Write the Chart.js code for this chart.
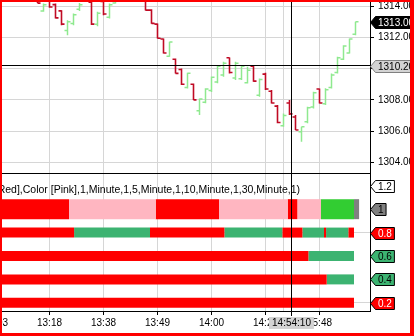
<!DOCTYPE html>
<html>
<head>
<meta charset="utf-8">
<script src="https://cdn.jsdelivr.net/npm/chart.js@4.4.1/dist/chart.umd.min.js"></script>
<style>
  html, body { margin:0; padding:0; }
  body { width:414px; height:336px; overflow:hidden; background:#ff0000; position:relative; }
  #frame { position:absolute; left:2px; top:2px; width:408px; height:331px; background:#ffffff; }
  canvas { display:block; }
</style>
</head>
<body>
<div id="frame"><canvas id="chart" width="408" height="331"></canvas></div>
<script>
// ---------------- data ----------------
const opens  = [1315.2,1315.0,1314.8,1315.3,1315.1,1315.5,1314.9,1313.7,1314.5,1314.1,
                1313.7,1312.45,1312.9,1313.8,1314.4,1314.25,1312.85,1314.3,1313.3,1314.2,
                1314.7,1315.2,1314.9,1315.3,1314.6,1313.75,1312.85,1311.9,1310.8,1310.6,
                1309.95,1308.8,1309.0,1307.3,1307.85,1308.6,1309.15,1309.6,1310.7,1309.4,
                1309.35,1309.1,1310.15,1308.3,1309.65,1308.55,1307.6,1306.35,1307.8,1306.9,
                1305.96,1306.6,1307.55,1308.7,1307.75,1308.8,1309.75,1310.6,1311.0,1312.2];
const highs  = [1315.5,1315.3,1315.4,1315.6,1315.6,1315.6,1315.0,1314.17,1314.6,1314.17,
                1313.74,1313.1,1313.53,1314.2,1314.9,1314.3,1313.64,1314.4,1314.17,1314.8,
                1315.3,1315.3,1315.4,1315.4,1314.7,1313.8,1312.89,1311.93,1311.72,1310.65,
                1310.01,1309.73,1309.05,1308.09,1308.75,1309.5,1310.23,1310.44,1310.72,1310.44,
                1310.23,1310.12,1310.18,1309.37,1309.73,1308.63,1307.67,1307.13,1307.99,1307.03,
                1306.28,1307.56,1308.52,1308.73,1308.75,1309.69,1310.76,1311.5,1311.93,1313.0];
const lows   = [1314.8,1314.7,1314.7,1315.0,1315.0,1314.9,1314.2,1313.64,1313.9,1313.21,
                1312.78,1312.14,1312.78,1313.7,1314.35,1312.8,1312.72,1313.42,1313.21,1314.17,
                1314.6,1314.8,1314.8,1314.6,1313.72,1312.88,1311.93,1310.97,1310.76,1309.69,
                1308.95,1308.73,1307.99,1307.03,1307.79,1308.5,1309.07,1309.48,1309.69,1309.27,
                1309.27,1309.05,1309.16,1308.2,1308.63,1307.77,1306.5,1306.28,1307.03,1306.07,
                1305.32,1306.5,1307.45,1307.77,1307.67,1308.73,1309.69,1310.55,1310.97,1312.14];
const closes = [1315.0,1314.8,1315.3,1315.1,1315.5,1315.0,1314.2,1314.1,1313.95,1313.25,
                1312.85,1313.0,1313.45,1314.1,1314.8,1312.85,1313.55,1313.5,1314.1,1314.7,
                1315.2,1314.9,1315.3,1314.7,1313.75,1312.9,1311.95,1311.0,1311.7,1309.7,
                1309.0,1309.7,1308.0,1308.05,1308.7,1309.45,1310.15,1310.35,1309.75,1310.35,
                1310.15,1309.9,1309.2,1309.3,1308.7,1307.8,1306.55,1307.0,1307.1,1306.07,
                1306.28,1307.5,1308.45,1307.8,1308.65,1309.6,1310.7,1311.45,1311.9,1313.0];

const timeTickBars   = [-1, 8, 17, 26, 35, 44, 53];
const timeTickLabels = ['13:03','13:18','13:38','13:49','14:00','14:27','15:48'];
const priceTicks     = [1304, 1306, 1308, 1310, 1312, 1314];
const trendTicks     = [0.2, 0.4, 0.6, 0.8, 1, 1.2];
const trendTickLabels= ['0.2','0.4','0.6','0.8','1','1.2'];
const trendGridLevels= [0.2, 0.8];

// indicator rows: level, segment edges (bar units) and state per segment
const trendLevels = [1, 0.8, 0.6, 0.4, 0.2];
const trendEdges = [
  [-1, 11.25, 25.7, 36.25, 47.7, 49.3, 53.25, 58.75, 59.6],
  [-1, 12.1, 24.75, 37.15, 46.8, 50.15, 53.75, 54.1, 57.8, 58.75],
  [-1, 51.15, 58.75],
  [-1, 54.2, 58.75],
  [-1, 58.75]
];
const trendStates = [
  ['R','P','R','P','R','P','G','N'],
  ['R','T','R','T','R','T','R','T','R'],
  ['R','T'],
  ['R','T'],
  ['R']
];

const crossBar = 48.33;
const crossPrice = 1310.2;
const crossTime = '14:54:10';
const sessionLineBar = 47;
const indicatorLabel = 'Red],Color [Pink],1,Minute,1,5,Minute,1,10,Minute,1,30,Minute,1)';

// ---------------- styles ----------------
const FONT = '"Liberation Sans", Arial, sans-serif';
const GRID = '#d6d6d6';
const UP = '#8fe98f';
const DOWN = '#c00a24';
const stateColors = { R:'#ff0000', P:'#ffb6c1', G:'#32cd32', T:'#3cb371', N:'#808080' };
const TICK = 0.5;
Chart.defaults.font.family = FONT;

// ---------------- datasets ----------------
function barSegments(wantUp) {
  const pts = [];
  for (let i = 0; i < closes.length; i++) {
    if ((closes[i] >= opens[i]) !== wantUp) continue;
    pts.push({x:i, y:lows[i]}, {x:i, y:highs[i]}, {x:i, y:null},
             {x:i - TICK, y:opens[i]}, {x:i, y:opens[i]}, {x:i, y:null},
             {x:i, y:closes[i]}, {x:i + TICK, y:closes[i]}, {x:i, y:null});
  }
  return pts;
}
const datasets = [];
datasets.push({ data: barSegments(true), borderColor: UP, borderWidth: 1.5, xAxisID:'x', yAxisID:'yP',
                pointRadius:0, spanGaps:false, tension:0, fill:false });
datasets.push({ data: barSegments(false), borderColor: DOWN, borderWidth: 1.6, xAxisID:'x', yAxisID:'yP',
                pointRadius:0, spanGaps:false, tension:0, fill:false });
trendLevels.forEach((lvl, r) => {
  const edges = trendEdges[r], states = trendStates[r];
  for (let k = 0; k < states.length; k++) {
    datasets.push({ data: [{x:edges[k], y:lvl}, {x:edges[k+1], y:lvl}],
                    borderColor: stateColors[states[k]], borderWidth: r === 0 ? 20 : 10,
                    borderCapStyle:'butt', xAxisID:'x', yAxisID:'yI', pointRadius:0, fill:false });
  }
});

// ---------------- overlay plugin ----------------
const al = v => Math.floor(v) + 0.5;
function drawTag(ctx, xTip, y, text, fill, textColor, stroke) {
  ctx.save();
  ctx.font = '10px ' + FONT;
  const w = ctx.measureText(text).width;
  const h = 12, a = 5;
  const x0 = xTip + a, x1 = x0 + w + 5;
  const yt = Math.round(y - h / 2) + 0.5, yb = yt + h;
  ctx.beginPath();
  ctx.moveTo(xTip + 0.5, (yt + yb) / 2);
  ctx.lineTo(x0 + 0.5, yt); ctx.lineTo(x1 + 0.5, yt); ctx.lineTo(x1 + 0.5, yb); ctx.lineTo(x0 + 0.5, yb);
  ctx.closePath();
  ctx.fillStyle = fill; ctx.fill();
  ctx.strokeStyle = stroke; ctx.lineWidth = 1; ctx.stroke();
  ctx.fillStyle = textColor; ctx.textAlign = 'left'; ctx.textBaseline = 'middle';
  ctx.fillText(text, x0 + 3, (yt + yb) / 2 + 0.5);
  ctx.restore();
}
const overlay = {
  id: 'overlay',
  beforeDatasetsDraw(chart) {
    const { ctx, chartArea: ca, scales: { x } } = chart;
    const px = al(x.getPixelForValue(sessionLineBar));
    ctx.save();
    ctx.strokeStyle = GRID; ctx.lineWidth = 1;
    ctx.beginPath(); ctx.moveTo(px, ca.top); ctx.lineTo(px, ca.bottom); ctx.stroke();
    ctx.restore();
  },
  afterDraw(chart) {
    const { ctx, chartArea: ca, scales: { x, yP, yI } } = chart;
    ctx.save();
    // panel separator
    ctx.strokeStyle = '#000'; ctx.lineWidth = 1;
    const sy = al(yI.top);
    ctx.beginPath(); ctx.moveTo(ca.left, sy); ctx.lineTo(ca.right, sy); ctx.stroke();
    // indicator label
    ctx.font = '10.5px ' + FONT; ctx.fillStyle = '#000';
    ctx.textAlign = 'right'; ctx.textBaseline = 'middle';
    ctx.fillText(indicatorLabel, ca.left + 298, yI.top + 17.5);
    // crosshair
    const cx = al(x.getPixelForValue(crossBar));
    const cy = al(yP.getPixelForValue(crossPrice));
    ctx.beginPath();
    ctx.moveTo(cx, ca.top); ctx.lineTo(cx, x.top + 5);
    ctx.moveTo(ca.left, cy); ctx.lineTo(ca.right, cy);
    ctx.stroke();
    // crosshair time box
    ctx.font = '10px ' + FONT;
    const tw = ctx.measureText(crossTime).width + 6;
    ctx.fillStyle = '#d3d3d3';
    ctx.fillRect(Math.round(cx - tw / 2), x.top + 6, tw, 12);
    ctx.fillStyle = '#000'; ctx.textAlign = 'center'; ctx.textBaseline = 'middle';
    ctx.fillText(crossTime, cx, x.top + 12.5);
    ctx.restore();
    // price tags
    const last = closes[closes.length - 1];
    drawTag(ctx, yP.left, yP.getPixelForValue(last), last.toFixed(2), '#000', '#fff', '#000');
    drawTag(ctx, yP.left, yP.getPixelForValue(crossPrice), crossPrice.toFixed(2), '#d3d3d3', '#000', '#808080');
    // indicator tags
    trendTicks.forEach((v, k) => {
      const r = trendLevels.indexOf(v);
      let fill = '#ffffff', tc = '#000';
      if (r >= 0) {
        const st = trendStates[r][trendStates[r].length - 1];
        fill = stateColors[st];
        tc = st === 'R' ? '#ffffff' : '#000';
      }
      drawTag(ctx, yI.left, yI.getPixelForValue(v), trendTickLabels[k], fill, tc, '#000');
    });
  }
};

// ---------------- chart ----------------
const xMin = 1 / 12, xMax = xMin + 368 / 6;
new Chart(document.getElementById('chart'), {
  type: 'line',
  data: { datasets },
  options: {
    responsive: false, animation: false, events: [],
    layout: { padding: 0 },
    plugins: { legend: { display:false }, tooltip: { enabled:false } },
    scales: {
      x: {
        type:'linear', position:'bottom', min:xMin, max:xMax,
        afterBuildTicks: s => { s.ticks = timeTickBars.map(v => ({ value:v })); },
        afterFit: s => { s.height = 22; s.paddingLeft = 0; s.paddingRight = 0; },
        ticks: { autoSkip:false, maxRotation:0, minRotation:0, color:'#000', padding:2,
                 font:{ size:10, family:FONT },
                 callback: v => timeTickLabels[timeTickBars.indexOf(v)] },
        grid: { color:GRID, tickColor:'#000', tickLength:4, drawOnChartArea:true },
        border: { color:'#000' }
      },
      yP: {
        type:'linear', position:'right', stack:'panels', stackWeight:171,
        min:1303.315, max:1314.27,
        afterBuildTicks: s => { s.ticks = priceTicks.map(v => ({ value:v })); },
        afterFit: s => { s.width = 40; s.paddingTop = 0; s.paddingBottom = 0; },
        ticks: { color:'#000', padding:4, font:{ size:10, family:FONT }, callback: v => v.toFixed(2) },
        grid: { color:GRID, tickColor:'#000', tickLength:4 },
        border: { color:'#000' }
      },
      yI: {
        type:'linear', position:'right', stack:'panels', stackWeight:138,
        min:0.13, max:1.309,
        afterBuildTicks: s => { s.ticks = trendTicks.map(v => ({ value:v })); },
        afterFit: s => { s.width = 40; s.paddingTop = 0; s.paddingBottom = 0; },
        ticks: { display:false },
        grid: { color: c => (c.tick && trendGridLevels.includes(c.tick.value)) ? GRID : 'rgba(0,0,0,0)',
                 drawTicks:false },
        border: { color:'#000' }
      }
    }
  },
  plugins: [overlay]
});
</script>
</body>
</html>
